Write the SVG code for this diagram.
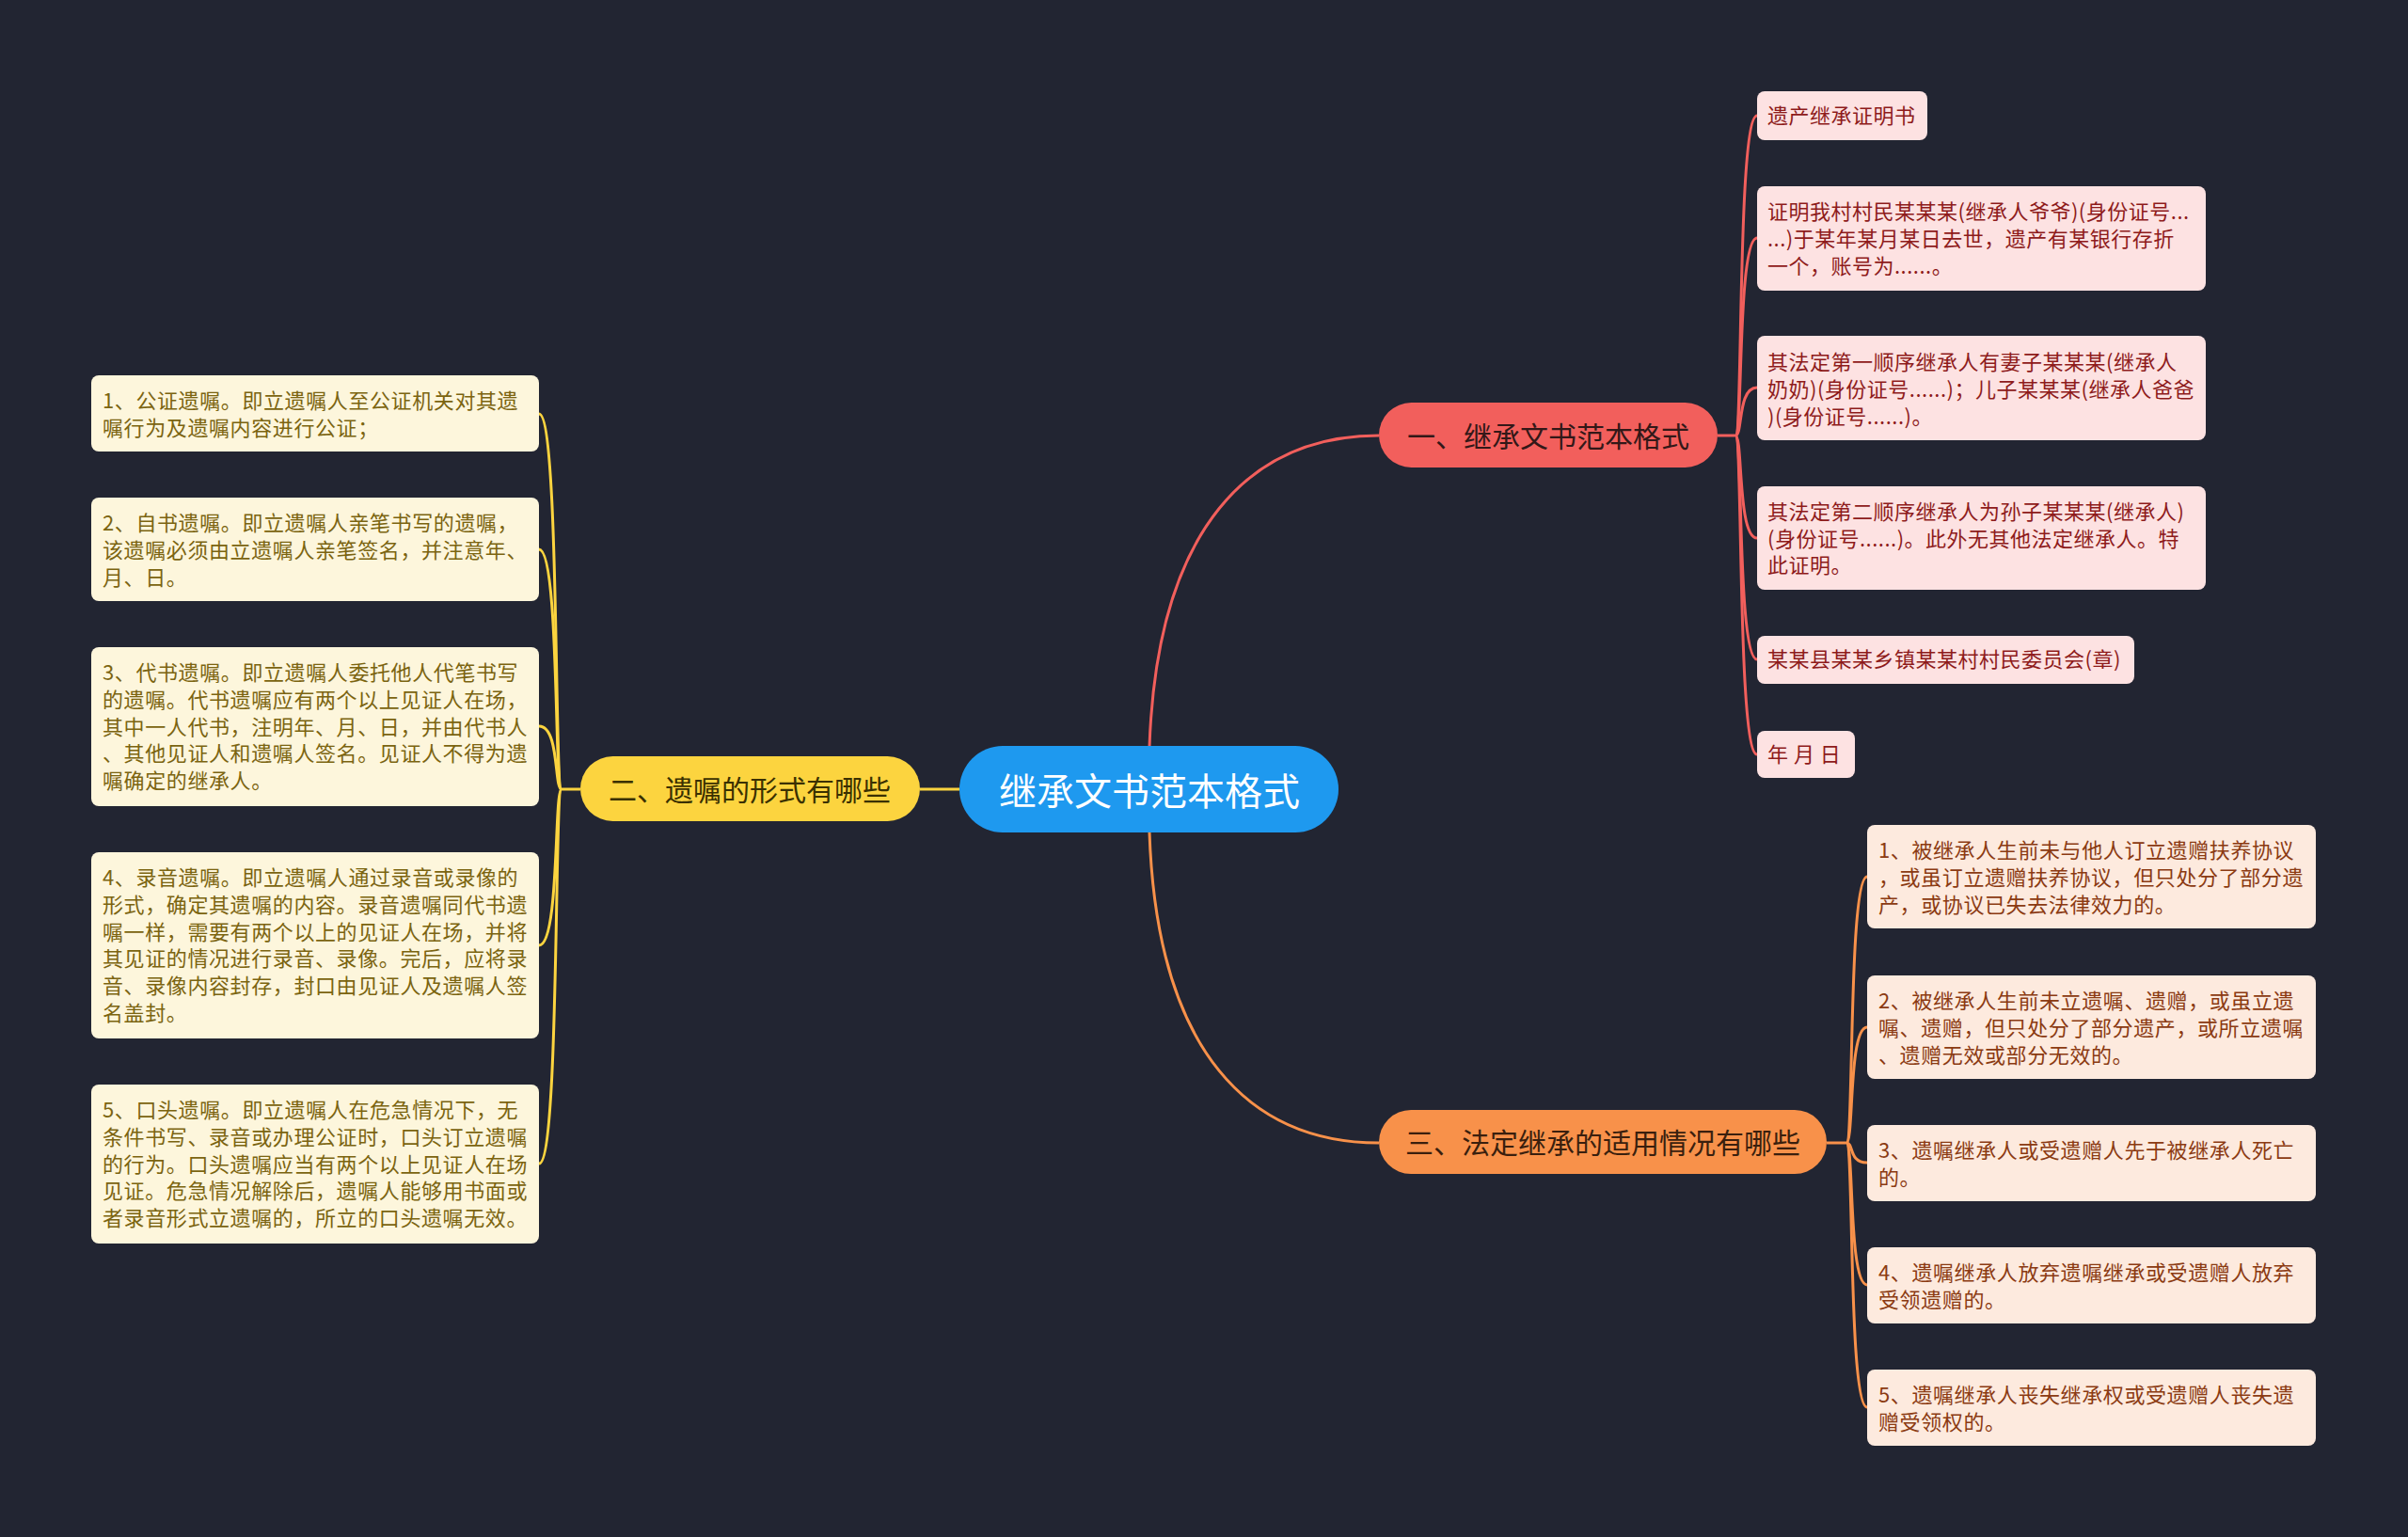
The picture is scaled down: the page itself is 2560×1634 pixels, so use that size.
<svg xmlns="http://www.w3.org/2000/svg" width="2560" height="1634" viewBox="0 0 2560 1634">
<style>
text{font-family:"Noto Sans CJK SC","Noto Sans",sans-serif;}
.c1{fill:#fde2e2;}
.c2{fill:#fdf6dc;}
.c3{fill:#fdeade;}
.t1{fill:#8e1b1b;font-size:22px;letter-spacing:0.5px;}
.t2{fill:#7b6410;font-size:22px;letter-spacing:0.6px;}
.t3{fill:#8b3a12;font-size:22px;letter-spacing:0.6px;}
.br{font-size:30px;text-anchor:middle;dominant-baseline:central;}
.lr{fill:none;stroke:#f25f5c;stroke-width:3;}
.ly{fill:none;stroke:#fcd43f;stroke-width:3;}
.lo{fill:none;stroke:#f8914a;stroke-width:3;}
</style>
<rect width="2560" height="1634" fill="#222532"/>
<g id="connectors">
<path class="lr" d="M1222,794 C1230,560 1330,463 1466,463"/>
<path class="lo" d="M1222,885 C1230,1120 1330,1215 1466,1215"/>
<path class="ly" d="M1020,839 L978,839"/>
<path class="lr" d="M1826,463 L1845,463"/>
<path class="lr" d="M1845,463 C1853,463 1847,123 1868,123"/>
<path class="lr" d="M1845,463 C1853,463 1847,253 1868,253"/>
<path class="lr" d="M1845,463 C1853,463 1847,412 1868,412"/>
<path class="lr" d="M1845,463 C1853,463 1847,572 1868,572"/>
<path class="lr" d="M1845,463 C1853,463 1847,701 1868,701"/>
<path class="lr" d="M1845,463 C1853,463 1847,802 1868,802"/>
<path class="lo" d="M1942,1215 L1963,1215"/>
<path class="lo" d="M1963,1215 C1971,1215 1965,932 1985,932"/>
<path class="lo" d="M1963,1215 C1971,1215 1965,1092 1985,1092"/>
<path class="lo" d="M1963,1215 C1971,1215 1965,1236 1985,1236"/>
<path class="lo" d="M1963,1215 C1971,1215 1965,1366 1985,1366"/>
<path class="lo" d="M1963,1215 C1971,1215 1965,1496 1985,1496"/>
<path class="ly" d="M617,839 L597,839"/>
<path class="ly" d="M597,839 C589,839 595,440 573,440"/>
<path class="ly" d="M597,839 C589,839 595,584 573,584"/>
<path class="ly" d="M597,839 C589,839 595,772 573,772"/>
<path class="ly" d="M597,839 C589,839 595,1005 573,1005"/>
<path class="ly" d="M597,839 C589,839 595,1237 573,1237"/>
</g>
<g id="root">
<rect x="1020" y="793" width="403" height="92" rx="46" fill="#1e99ef"/>
<text x="1222" y="839" font-size="40" fill="#ffffff" text-anchor="middle" dominant-baseline="central">继承文书范本格式</text>
</g>
<g id="b1">
<rect x="1466" y="428" width="360" height="69" rx="34.5" fill="#f25f5c"/>
<text class="br" x="1646" y="462" fill="#331818">一、继承文书范本格式</text>
</g>
<g id="b2">
<rect x="617" y="804" width="361" height="69" rx="34.5" fill="#fcd43f"/>
<text class="br" x="797" y="838" fill="#3a3000">二、遗嘱的形式有哪些</text>
</g>
<g id="b3">
<rect x="1466" y="1180" width="476" height="68" rx="34" fill="#f8914a"/>
<text class="br" x="1704" y="1213" fill="#3a1f0e">三、法定继承的适用情况有哪些</text>
</g>
<g id="n1a"><rect class="c1" x="1868" y="97" width="181" height="52" rx="8"/>
<text class="t1" x="1879" y="131">遗产继承证明书</text></g>
<g id="n1b"><rect class="c1" x="1868" y="198" width="477" height="111" rx="8"/>
<text class="t1" x="1879" y="233">证明我村村民某某某(继承人爷爷)(身份证号...<tspan x="1879" dy="29">...)于某年某月某日去世，遗产有某银行存折</tspan><tspan x="1879" dy="29">一个，账号为......。</tspan></text></g>
<g id="n1c"><rect class="c1" x="1868" y="357" width="477" height="111" rx="8"/>
<text class="t1" x="1879" y="393">其法定第一顺序继承人有妻子某某某(继承人<tspan x="1879" dy="29">奶奶)(身份证号......)；儿子某某某(继承人爸爸</tspan><tspan x="1879" dy="29">)(身份证号......)。</tspan></text></g>
<g id="n1d"><rect class="c1" x="1868" y="517" width="477" height="110" rx="8"/>
<text class="t1" x="1879" y="552">其法定第二顺序继承人为孙子某某某(继承人)<tspan x="1879" dy="28.5">(身份证号......)。此外无其他法定继承人。特</tspan><tspan x="1879" dy="28.5">此证明。</tspan></text></g>
<g id="n1e"><rect class="c1" x="1868" y="676" width="401" height="51" rx="8"/>
<text class="t1" x="1879" y="709">某某县某某乡镇某某村村民委员会(章)</text></g>
<g id="n1f"><rect class="c1" x="1868" y="777" width="104" height="50" rx="8"/>
<text class="t1" x="1879" y="810">年 月 日</text></g>
<g id="n3a"><rect class="c3" x="1985" y="877" width="477" height="110" rx="8"/>
<text class="t3" x="1997" y="912">1、被继承人生前未与他人订立遗赠扶养协议<tspan x="1997" dy="28.8">，或虽订立遗赠扶养协议，但只处分了部分遗</tspan><tspan x="1997" dy="28.8">产，或协议已失去法律效力的。</tspan></text></g>
<g id="n3b"><rect class="c3" x="1985" y="1037" width="477" height="110" rx="8"/>
<text class="t3" x="1997" y="1072">2、被继承人生前未立遗嘱、遗赠，或虽立遗<tspan x="1997" dy="28.8">嘱、遗赠，但只处分了部分遗产，或所立遗嘱</tspan><tspan x="1997" dy="28.8">、遗赠无效或部分无效的。</tspan></text></g>
<g id="n3c"><rect class="c3" x="1985" y="1196" width="477" height="81" rx="8"/>
<text class="t3" x="1997" y="1231">3、遗嘱继承人或受遗赠人先于被继承人死亡<tspan x="1997" dy="28.8">的。</tspan></text></g>
<g id="n3d"><rect class="c3" x="1985" y="1326" width="477" height="81" rx="8"/>
<text class="t3" x="1997" y="1361">4、遗嘱继承人放弃遗嘱继承或受遗赠人放弃<tspan x="1997" dy="28.8">受领遗赠的。</tspan></text></g>
<g id="n3e"><rect class="c3" x="1985" y="1456" width="477" height="81" rx="8"/>
<text class="t3" x="1997" y="1491">5、遗嘱继承人丧失继承权或受遗赠人丧失遗<tspan x="1997" dy="28.8">赠受领权的。</tspan></text></g>
<g id="n2a"><rect class="c2" x="97" y="399" width="476" height="81" rx="8"/>
<text class="t2" x="109" y="434">1、公证遗嘱。即立遗嘱人至公证机关对其遗<tspan x="109" dy="28.8">嘱行为及遗嘱内容进行公证；</tspan></text></g>
<g id="n2b"><rect class="c2" x="97" y="529" width="476" height="110" rx="8"/>
<text class="t2" x="109" y="564">2、自书遗嘱。即立遗嘱人亲笔书写的遗嘱，<tspan x="109" dy="28.8">该遗嘱必须由立遗嘱人亲笔签名，并注意年、</tspan><tspan x="109" dy="28.8">月、日。</tspan></text></g>
<g id="n2c"><rect class="c2" x="97" y="688" width="476" height="169" rx="8"/>
<text class="t2" x="109" y="723">3、代书遗嘱。即立遗嘱人委托他人代笔书写<tspan x="109" dy="28.8">的遗嘱。代书遗嘱应有两个以上见证人在场，</tspan><tspan x="109" dy="28.8">其中一人代书，注明年、月、日，并由代书人</tspan><tspan x="109" dy="28.8">、其他见证人和遗嘱人签名。见证人不得为遗</tspan><tspan x="109" dy="28.8">嘱确定的继承人。</tspan></text></g>
<g id="n2d"><rect class="c2" x="97" y="906" width="476" height="198" rx="8"/>
<text class="t2" x="109" y="941">4、录音遗嘱。即立遗嘱人通过录音或录像的<tspan x="109" dy="28.8">形式，确定其遗嘱的内容。录音遗嘱同代书遗</tspan><tspan x="109" dy="28.8">嘱一样，需要有两个以上的见证人在场，并将</tspan><tspan x="109" dy="28.8">其见证的情况进行录音、录像。完后，应将录</tspan><tspan x="109" dy="28.8">音、录像内容封存，封口由见证人及遗嘱人签</tspan><tspan x="109" dy="28.8">名盖封。</tspan></text></g>
<g id="n2e"><rect class="c2" x="97" y="1153" width="476" height="169" rx="8"/>
<text class="t2" x="109" y="1188">5、口头遗嘱。即立遗嘱人在危急情况下，无<tspan x="109" dy="28.8">条件书写、录音或办理公证时，口头订立遗嘱</tspan><tspan x="109" dy="28.8">的行为。口头遗嘱应当有两个以上见证人在场</tspan><tspan x="109" dy="28.8">见证。危急情况解除后，遗嘱人能够用书面或</tspan><tspan x="109" dy="28.8">者录音形式立遗嘱的，所立的口头遗嘱无效。</tspan></text></g>
</svg>
